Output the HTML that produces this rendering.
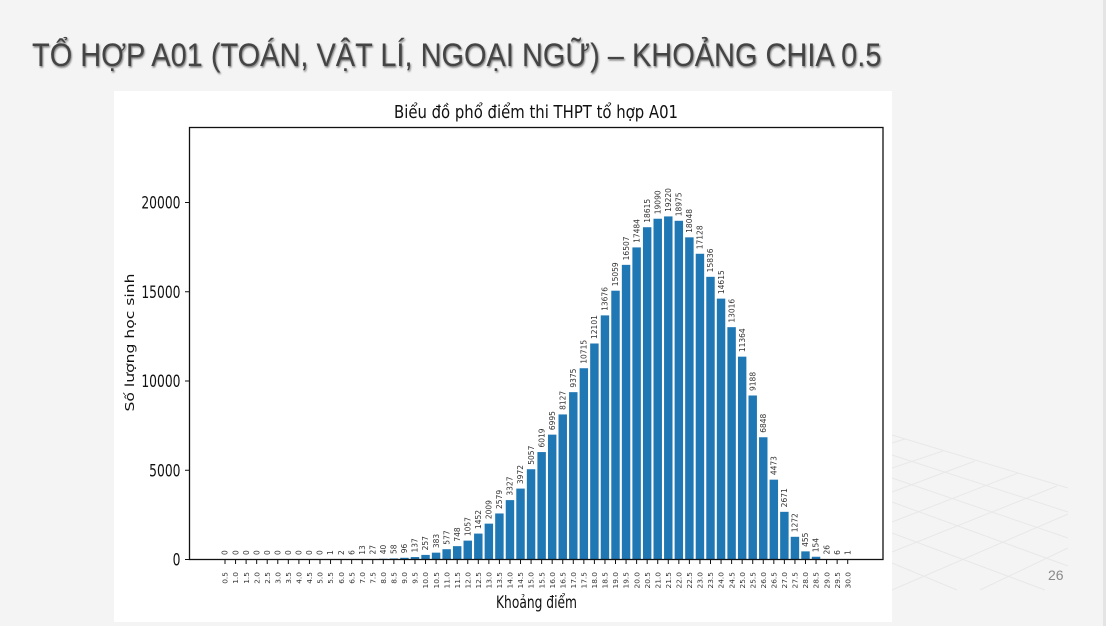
<!DOCTYPE html>
<html lang="vi">
<head>
<meta charset="utf-8">
<title>Tổ hợp A01</title>
<style>
html,body{margin:0;padding:0;width:1106px;height:626px;overflow:hidden;background:#f4f4f4}
#slide{position:relative;width:1106px;height:626px;background:#f4f4f4;overflow:hidden}
#title{position:absolute;left:32px;top:35px;margin:0;font:400 32px/40px "Liberation Sans",sans-serif;color:#444;white-space:nowrap;transform-origin:0 0;transform:scaleX(.905);text-shadow:1px 1.5px 2px rgba(0,0,0,.5)}
#edge{position:absolute;left:1103px;top:0;width:3px;height:626px;background:#e4e4e4}
#page-number{position:absolute;left:1048px;top:567px;font:14px/16px "Liberation Sans",sans-serif;color:#8a8a8a}
svg{position:absolute;left:0;top:0}
</style>
</head>
<body>
<div id="slide">
<svg width="1106" height="626">
<g stroke="#e8e8e8" stroke-width="1">
<line x1="892" y1="435" x2="1068" y2="488"/>
<line x1="892" y1="455" x2="1068" y2="512"/>
<line x1="892" y1="478" x2="1068" y2="538"/>
<line x1="892" y1="502" x2="1068" y2="566"/>
<line x1="892" y1="533" x2="1045" y2="590"/>
<line x1="892" y1="563" x2="957" y2="590"/>
<line x1="892" y1="443" x2="905" y2="439"/>
<line x1="892" y1="468" x2="943" y2="451"/>
<line x1="892" y1="492" x2="975" y2="461"/>
<line x1="892" y1="522" x2="1018" y2="473"/>
<line x1="892" y1="552" x2="1057" y2="486"/>
<line x1="892" y1="590" x2="1068" y2="514"/>
<line x1="980" y1="590" x2="1068" y2="548"/>
</g>
</svg>
<h1 id="title">TỔ HỢP A01 (TOÁN, VẬT LÍ, NGOẠI NGỮ) – KHOẢNG CHIA 0.5</h1>
<div id="edge"></div>
<div id="page-number">26</div>
<svg id="chart" width="1106" height="626" font-family="'DejaVu Sans',sans-serif">
<rect x="114" y="91" width="778" height="531" fill="#ffffff"/>
<text x="394" y="118" font-size="18" textLength="284" lengthAdjust="spacingAndGlyphs" fill="#111">Biểu đồ phổ điểm thi THPT tổ hợp A01</text>
<text x="496" y="608" font-size="17" textLength="81" lengthAdjust="spacingAndGlyphs" fill="#111">Khoảng điểm</text>
<text transform="translate(134,342.5) rotate(-90) scale(1,.8)" text-anchor="middle" font-size="15.6" fill="#111">Số lượng học sinh</text>
<g id="bars"></g>
<g id="bar-labels"></g>
<g id="x-ticks"></g>
<g id="y-ticks"></g>
<rect x="189.5" y="127.5" width="693.5" height="432" fill="none" stroke="#111" stroke-width="1.3"/>
</svg>
</div>
<script>
var categories = ["0.5","1.0","1.5","2.0","2.5","3.0","3.5","4.0","4.5","5.0","5.5","6.0","6.5","7.0","7.5","8.0","8.5","9.0","9.5","10.0","10.5","11.0","11.5","12.0","12.5","13.0","13.5","14.0","14.5","15.0","15.5","16.0","16.5","17.0","17.5","18.0","18.5","19.0","19.5","20.0","20.5","21.0","21.5","22.0","22.5","23.0","23.5","24.0","24.5","25.0","25.5","26.0","26.5","27.0","27.5","28.0","28.5","29.0","29.5","30.0"];
var studentCounts = [0,0,0,0,0,0,0,0,0,0,1,2,6,13,27,40,58,96,137,257,383,577,748,1057,1452,2009,2579,3327,3972,5057,6019,6995,8127,9375,10715,12101,13676,15059,16507,17484,18615,19090,19220,18975,18048,17128,15836,14615,13016,11364,9188,6848,4473,2671,1272,455,154,26,6,1];
var yTickValues = [0,5000,10000,15000,20000];

var NS = 'http://www.w3.org/2000/svg';
function xScale(i){ return 225 + i * (847.7 - 225) / (categories.length - 1); }
function yScale(v){ return 559.5 - v * 0.01785; }
function make(tag, attrs, parent, text){
  var el = document.createElementNS(NS, tag);
  for (var k in attrs) el.setAttribute(k, attrs[k]);
  if (text !== undefined) el.textContent = text;
  parent.appendChild(el);
  return el;
}
var barW = 0.8 * (847.7 - 225) / (categories.length - 1);
var barsG = document.getElementById('bars');
var labelsG = document.getElementById('bar-labels');
var xG = document.getElementById('x-ticks');
var yG = document.getElementById('y-ticks');
categories.forEach(function(c, i){
  var x = xScale(i), v = studentCounts[i], y = yScale(v);
  var bar = make('rect', {x: x - barW / 2, y: y, width: barW, height: 559.5 - y, fill: '#1f77b4'}, barsG);
  
  
  var lab = make('text', {transform: 'translate(' + x + ',' + (y - 4.5) + ') rotate(-90) scale(1,1)', dy: '.36em', 'font-size': 7.5, fill: '#333'}, labelsG, String(v));
  
  
  var tick = make('line', {x1: x, x2: x, y1: 559.5, y2: 564, stroke: '#111', 'stroke-width': 1}, xG);
  
  
  var tl = make('text', {transform: 'translate(' + x + ',572) rotate(-90) scale(1,1)', dy: '.36em', 'text-anchor': 'end', 'font-size': 7.4, fill: '#333'}, xG, c);
  
  
});
yTickValues.forEach(function(v){
  var y = yScale(v);
  var tick = make('line', {x1: 185, x2: 189.5, y1: y, y2: y, stroke: '#111', 'stroke-width': 1}, yG);
  
  
  var tl = make('text', {transform: 'translate(180.5,' + (y + 6) + ') scale(.725,1)', 'text-anchor': 'end', 'font-size': 17, fill: '#111'}, yG, String(v));
  
  
});
</script>
</body>
</html>
